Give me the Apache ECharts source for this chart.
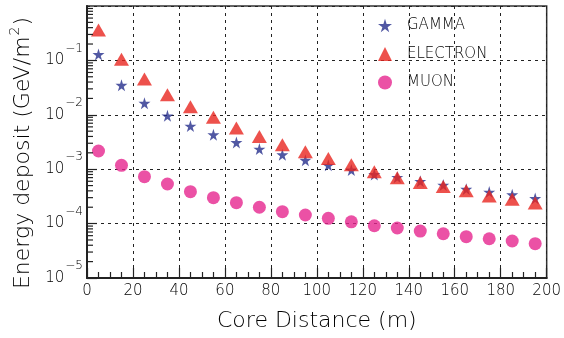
<!DOCTYPE html>
<html><head><meta charset="utf-8">
<script src="https://cdn.jsdelivr.net/npm/echarts@6/dist/echarts.min.js"></script>
<style>html,body{margin:0;padding:0;background:#fff}#c{width:564px;height:338px}</style>
</head><body><div id="c"></div>
<script>
const distances = [5,15,25,35,45,55,65,75,85,95,105,115,125,135,145,155,165,175,185,195];
const gamma = [0.129,0.035,0.0163,0.0096,0.0062,0.0043,0.0031,0.00235,0.00185,0.00146,0.00118,0.00097,0.00080,0.00071,0.00060,0.00051,0.00043,0.00038,0.00034,0.00029];
const electron = [0.362,0.105,0.0455,0.0234,0.0141,0.0090,0.0057,0.0040,0.0028,0.0021,0.00158,0.00121,0.00090,0.00070,0.00057,0.00048,0.00040,0.00032,0.00028,0.00024];
const muon = [0.00216,0.00118,0.00073,0.000535,0.000387,0.00030,0.000242,0.00020,0.000166,0.000144,0.000125,0.000108,0.0000914,0.000083,0.000073,0.000065,0.0000574,0.0000527,0.0000479,0.0000428];
const seriesNames = ['GAMMA','ELECTRON','MUON'];
const xTicks = [0,20,40,60,80,100,120,140,160,180,200];
const yDecades = [-5,-4,-3,-2,-1,0];

const FONT = 'DejaVu Sans';
const FW = 200;
const TXT = '#000';
const starPath = 'path://M50,0 L61,35 L98,35 L68,57 L79,91 L50,70 L21,91 L32,57 L2,35 L39,35 Z';
const minorY = [];
for (let k = -5; k < 0; k++) for (let m = 2; m <= 9; m++) minorY.push([0, m * Math.pow(10, k)]);

const pair = arr => distances.map((d, i) => [d, arr[i]]);
const chart = echarts.init(document.getElementById('c'));
chart.setOption({
  animation: false,
  backgroundColor: '#fff',
  grid: {left: 82, right: 16, top: 6, bottom: 60, show: true, borderColor: '#333', borderWidth: 1.5, backgroundColor: 'transparent'},
  legend: {
    orient: 'vertical', left: 373, top: 13, itemWidth: 14, itemHeight: 14, itemGap: 13.5,
    data: seriesNames,
    textStyle: {fontFamily: FONT, fontWeight: FW, fontSize: 15, lineHeight: 14, color: TXT, padding: [0, 0, 0, 10]}
  },
  xAxis: {
    type: 'value', min: 0, max: 200, interval: 20,
    axisLine: {lineStyle: {color: '#222', width: 2}},
    axisTick: {inside: true, length: 10, lineStyle: {color: '#222', width: 1.2}},
    minorTick: {show: true, splitNumber: 4, length: 6, lineStyle: {color: '#222', width: 1.2}},
    splitLine: {show: true, lineStyle: {color: '#222', type: [3, 4], width: 1}},
    axisLabel: {margin: 6, fontFamily: FONT, fontWeight: FW, fontSize: 15, color: TXT},
    name: 'Core Distance (m)', nameLocation: 'middle', nameGap: 32,
    nameTextStyle: {fontFamily: FONT, fontWeight: FW, fontSize: 22, color: TXT}
  },
  yAxis: {
    type: 'log', logBase: 10, min: 1e-5, max: 1,
    axisLine: {lineStyle: {color: '#222', width: 2}},
    axisTick: {inside: true, length: 10, lineStyle: {color: '#222', width: 1.2}},
    splitLine: {show: true, lineStyle: {color: '#222', type: [3, 4], width: 1}},
    axisLabel: {
      margin: 4, showMaxLabel: false,
      formatter: v => '{b|10}{e|\u2212' + Math.abs(Math.round(Math.log10(v))) + '}',
      rich: {
        b: {fontFamily: FONT, fontWeight: FW, fontSize: 15, color: TXT},
        e: {fontFamily: FONT, fontWeight: FW, fontSize: 12, color: TXT, padding: [0, 0, 24, 1]}
      }
    },
    name: 'Energy deposit (GeV/m{s|2})', nameLocation: 'middle', nameGap: 49,
    nameTextStyle: {
      fontFamily: FONT, fontWeight: FW, fontSize: 22, color: TXT, padding: [0, 22, 0, 0],
      rich: {s: {fontFamily: FONT, fontWeight: FW, fontSize: 14, color: TXT, padding: [0, 1, 16, 1]}}
    }
  },
  series: [
    {name: 'GAMMA', type: 'scatter', data: pair(gamma), symbol: starPath, symbolSize: 12, itemStyle: {color: '#262e8c'}, z: 3},
    {name: 'ELECTRON', type: 'scatter', data: pair(electron), symbol: 'triangle', symbolSize: [15, 13], itemStyle: {color: '#e8261f'}, z: 4},
    {name: 'MUON', type: 'scatter', data: pair(muon), symbol: 'circle', symbolSize: 13, itemStyle: {color: '#e6268e'}, z: 2},
    {
      type: 'custom', data: minorY, silent: true, z: 5,
      renderItem: (params, api) => {
        const p = api.coord([0, api.value(1)]);
        const x0 = params.coordSys.x;
        return {type: 'line', shape: {x1: x0, y1: p[1], x2: x0 + 6, y2: p[1]}, style: {stroke: '#222', lineWidth: 1.2}};
      }
    }
  ]
});
</script></body></html>
